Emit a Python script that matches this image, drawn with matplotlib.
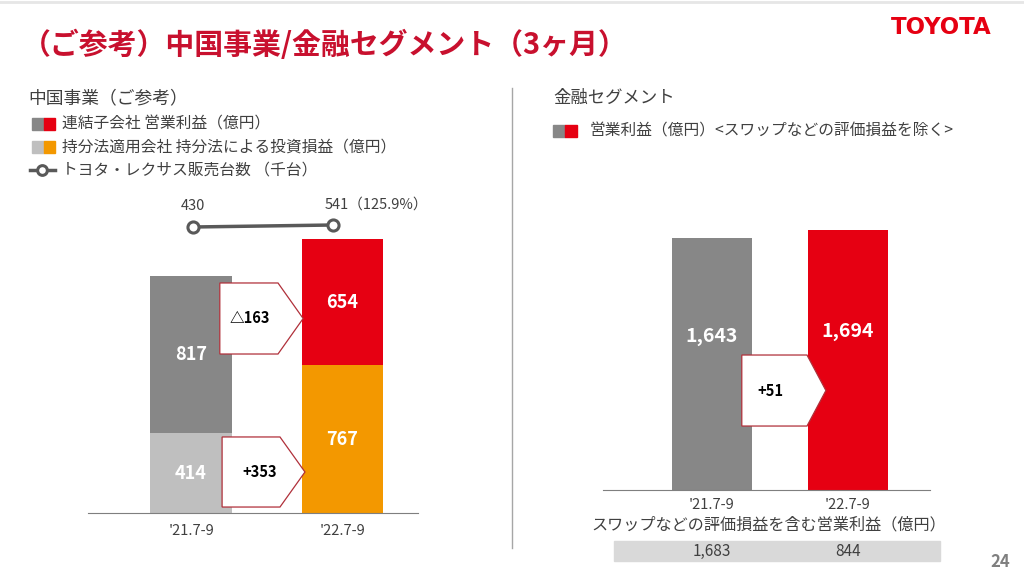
import matplotlib.pyplot as plt
from matplotlib.patches import Rectangle, Polygon
from matplotlib.lines import Line2D
from matplotlib.transforms import blended_transform_factory

plt.rcParams['font.family'] = ['Noto Sans CJK JP', 'DejaVu Sans']

# data
periods = ["'21.7-9", "'22.7-9"]
consolidated = [817, 654]      # 連結子会社 営業利益
equity_method = [414, 767]     # 持分法による投資損益
sales_units = [430, 541]       # 販売台数 (千台)
sales_labels = ["430", "541（125.9%）"]
finance_profit = [1643, 1694]  # スワップ除く
finance_incl_swap = ["1,683", "844"]
china_diffs = ["△163", "+353"]
finance_diff = "+51"

RED = "#e60012"
DGRAY = "#878787"
LGRAY = "#bfbfbf"
ORANGE = "#f39800"
TXT = "#404040"
TITLE_RED = "#c8102e"

W, H = 1024, 577
fig = plt.figure(figsize=(W / 100, H / 100), dpi=100)


def rect(l, t, r, b):
    return [l / W, 1 - b / H, (r - l) / W, (b - t) / H]


def fx(x):
    return x / W


def fy(y):
    return 1 - y / H


def arrow(ax, x0, x1, x2, y0, y1, label, tx):
    ym = (y0 + y1) / 2
    pts = [(x0, y0), (x1, y0), (x2, ym), (x1, y1), (x0, y1)]
    ax.add_patch(Polygon(pts, closed=True, facecolor="white", edgecolor="#b0303a",
                         lw=0.9, zorder=5, clip_on=False))
    ax.text(tx, ym, label, ha="center", va="center", fontsize=10.5,
            fontweight="bold", color="black", zorder=6)


def style(ax, pad):
    for s in ["top", "right", "left"]:
        ax.spines[s].set_visible(False)
    ax.spines["bottom"].set_color("#7f7f7f")
    ax.set_yticks([])
    ax.tick_params(axis="x", length=0, pad=pad, labelsize=10.5, labelcolor=TXT)
    ax.patch.set_alpha(0)


# title
fig.text(fx(22), fy(45), "（ご参考）中国事業/金融セグメント（3ヶ月）", fontsize=20.8,
         fontweight="bold", color=TITLE_RED, va="center", ha="left")
fig.text(fx(941), fy(28), "TOYOTA", fontsize=16.5, fontweight="bold", color=RED,
         family="DejaVu Sans", va="center", ha="center")
fig.add_artist(Line2D([0, 1], [fy(1.5), fy(1.5)], color="#e6e6e6", lw=2))
fig.text(fx(1000), fy(562), "24", fontsize=12, fontweight="bold", color="#7f7f7f",
         va="center", ha="center")
fig.add_artist(Line2D([fx(512), fx(512)], [fy(88), fy(548)], color="#a6a6a6", lw=1))

# left legend
fig.text(fx(28), fy(98), "中国事業（ご参考）", fontsize=12.8, color=TXT, va="center")
for y, c1, c2, lab in [(124, DGRAY, RED, "連結子会社 営業利益（億円）"),
                       (147, LGRAY, ORANGE, "持分法適用会社 持分法による投資損益（億円）")]:
    fig.add_artist(Rectangle((fx(32), fy(y + 6)), 12 / W, 12 / H, color=c1))
    fig.add_artist(Rectangle((fx(44), fy(y + 6)), 11 / W, 12 / H, color=c2))
    fig.text(fx(62), fy(y), lab, fontsize=11.3, color=TXT, va="center")
fig.add_artist(Line2D([fx(30), fx(55)], [fy(170), fy(170)], color="#595959", lw=2.5))
fig.add_artist(Line2D([fx(42)], [fy(170)], marker="o", ms=7, mfc="white",
                      mec="#595959", mew=2.2))
fig.text(fx(62), fy(170), "トヨタ・レクサス販売台数 （千台）", fontsize=11.3, color=TXT,
         va="center")

# left chart
ax1 = fig.add_axes(rect(88, 180, 418, 513))
x = [0, 1]
bw = 0.54
ax1.bar(x, equity_method, width=bw, color=[LGRAY, ORANGE])
ax1.bar(x, consolidated, width=bw, bottom=equity_method, color=[DGRAY, RED])
for i in x:
    ax1.text(i, equity_method[i] / 2, f"{equity_method[i]}",
             ha="center", va="center", color="white", fontsize=13, fontweight="bold")
    ax1.text(i, equity_method[i] + consolidated[i] / 2,
             f"{consolidated[i]}", ha="center", va="center", color="white",
             fontsize=13, fontweight="bold")
ax1.set_xlim(-0.68, 1.498)
ax1.set_ylim(0, 1730)
ax1.set_xticks(x, periods)
style(ax1, 8)
arrow(ax1, 0.19, 0.574, 0.74, 1195, 826, china_diffs[0], 0.385)
arrow(ax1, 0.205, 0.587, 0.752, 395, 31, china_diffs[1], 0.45)

# sales line
axl = fig.add_axes(rect(193 - 14, 216, 333 + 14, 236))
axl.plot(x, sales_units, color="#595959", lw=2.5, marker="o", ms=8, mfc="white",
         mec="#595959", mew=2.2, clip_on=False)
axl.set_xlim(-0.1, 1.1)
axl.set_ylim(-69.5, 1040.5)
axl.axis("off")
axl.annotate(sales_labels[0], (0, sales_units[0]), xytext=(0, 15),
             textcoords="offset points", ha="center", va="center", fontsize=10.5,
             color=TXT)
axl.annotate(sales_labels[1], (1, sales_units[1]), xytext=(-6, 15),
             textcoords="offset points", ha="left", va="center", fontsize=10.5,
             color=TXT)

# right legend
fig.text(fx(553), fy(98), "金融セグメント", fontsize=12.5, color=TXT, va="center")
fig.add_artist(Rectangle((fx(553), fy(137)), 12 / W, 12 / H, color=DGRAY))
fig.add_artist(Rectangle((fx(565), fy(137)), 12 / W, 12 / H, color=RED))
fig.text(fx(590), fy(131), "営業利益（億円）<スワップなどの評価損益を除く>", fontsize=11.3,
         color=TXT, va="center")

# right chart
ax2 = fig.add_axes(rect(603, 180, 930, 490))
ax2.bar(x, finance_profit, width=0.59, color=[DGRAY, RED])
for i in x:
    ax2.text(i, finance_profit[i] * 0.61, f"{finance_profit[i]:,}", ha="center",
             va="center", color="white", fontsize=14, fontweight="bold")
ax2.set_xlim(-0.80, 1.603)
ax2.set_ylim(0, 2021)
ax2.set_xticks(x, periods)
style(ax2, 6)
arrow(ax2, 0.22, 0.699, 0.838, 880, 417, finance_diff, 0.43)

fig.text(fx(769), fy(525), "スワップなどの評価損益を含む営業利益（億円）", fontsize=11.6,
         color=TXT, va="center", ha="center")
fig.add_artist(Rectangle((fx(614), fy(561)), 326 / W, 20 / H, color="#d9d9d9",
                         zorder=-1))
tr = blended_transform_factory(ax2.transData, fig.transFigure)
for i in x:
    ax2.text(i, fy(551), finance_incl_swap[i], transform=tr, ha="center",
             va="center", fontsize=11, color=TXT, clip_on=False)

fig.savefig("out.png", dpi=100)
